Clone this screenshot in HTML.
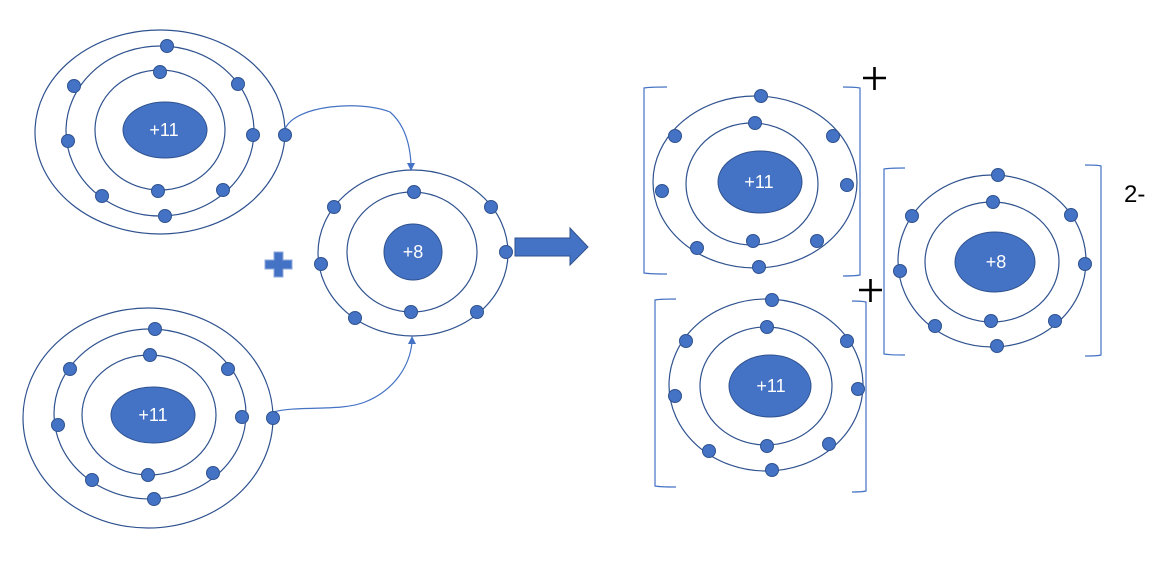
<!DOCTYPE html>
<html><head><meta charset="utf-8"><style>html,body{margin:0;padding:0;background:#fff}svg{display:block}</style></head><body>
<svg width="1164" height="570" viewBox="0 0 1164 570" xmlns="http://www.w3.org/2000/svg" font-family="Liberation Sans, sans-serif">
<g fill="none" stroke="#2F528F" stroke-width="1.2">
<ellipse cx="160" cy="132" rx="125" ry="102"/>
<ellipse cx="160" cy="131" rx="94" ry="85"/>
<ellipse cx="160" cy="130" rx="65" ry="60"/>
<ellipse cx="148" cy="418" rx="125" ry="110"/>
<ellipse cx="150" cy="414" rx="96" ry="85"/>
<ellipse cx="149" cy="415" rx="67" ry="60"/>
<ellipse cx="413" cy="253" rx="95" ry="83"/>
<ellipse cx="412" cy="252" rx="65" ry="60"/>
<ellipse cx="755" cy="182" rx="102" ry="86"/>
<ellipse cx="752" cy="184" rx="66" ry="61"/>
<ellipse cx="766" cy="385" rx="97" ry="86"/>
<ellipse cx="766" cy="386" rx="66" ry="59"/>
<ellipse cx="992" cy="261" rx="94" ry="86"/>
<ellipse cx="992" cy="262" rx="67" ry="60"/>
</g>
<g fill="none" stroke="#4472C4" stroke-width="1.2">
<path d="M285,129 C295,105 360,100 390,112 C405,125 410,145 411,164"/>
<path d="M273,412 C300,405 340,412 365,402 C395,390 410,365 412,342"/>
<path d="M667,87 Q650,87 644,88 L644,273 Q650,274 667,274"/>
<path d="M843,87 Q855,87 860,88 L860,275 Q855,276 843,276"/>
<path d="M676,299 Q660,299 655,300 L655,486 Q660,487 676,487"/>
<path d="M852,301 Q862,301 866,302 L866,491 Q862,492 852,492"/>
<path d="M905,168 Q890,168 884,169 L884,354 Q890,355 905,355"/>
<path d="M1085,165 Q1098,165 1101,166 L1101,355 Q1098,356 1085,356"/>
</g>
<path d="M407,163 L415,163 L411,171 Z" fill="#4472C4"/>
<path d="M412,336 L408,344 L416,344 Z" fill="#4472C4"/>
<g fill="#4472C4" stroke="#2F528F" stroke-width="1">
<ellipse cx="165" cy="130" rx="42" ry="28"/>
<ellipse cx="153" cy="415" rx="42" ry="28"/>
<ellipse cx="413" cy="252" rx="29" ry="28"/>
<ellipse cx="760" cy="182" rx="42" ry="31"/>
<ellipse cx="770" cy="386" rx="41" ry="31"/>
<ellipse cx="995" cy="262" rx="40" ry="30"/>
</g>
<g fill="#4472C4" stroke="#2F528F" stroke-width="1">
<circle cx="167" cy="46" r="6.5"/><circle cx="160" cy="72" r="6.5"/><circle cx="238" cy="84" r="6.5"/><circle cx="74" cy="86" r="6.5"/><circle cx="253" cy="135" r="6.5"/><circle cx="285" cy="135" r="6.5"/><circle cx="68" cy="141" r="6.5"/><circle cx="158" cy="191" r="6.5"/><circle cx="223" cy="190" r="6.5"/><circle cx="102" cy="196" r="6.5"/><circle cx="165" cy="216" r="6.5"/>
<circle cx="155" cy="329" r="6.5"/><circle cx="150" cy="355" r="6.5"/><circle cx="228" cy="369" r="6.5"/><circle cx="70" cy="369" r="6.5"/><circle cx="242" cy="417" r="6.5"/><circle cx="273" cy="418" r="6.5"/><circle cx="58" cy="425" r="6.5"/><circle cx="148" cy="475" r="6.5"/><circle cx="213" cy="473" r="6.5"/><circle cx="92" cy="480" r="6.5"/><circle cx="154" cy="499" r="6.5"/>
<circle cx="414" cy="192" r="6.5"/><circle cx="334" cy="207" r="6.5"/><circle cx="491" cy="207" r="6.5"/><circle cx="321" cy="264" r="6.5"/><circle cx="506" cy="252" r="6.5"/><circle cx="355" cy="318" r="6.5"/><circle cx="411" cy="312" r="6.5"/><circle cx="477" cy="312" r="6.5"/>
<circle cx="761" cy="96" r="6.5"/><circle cx="755" cy="123" r="6.5"/><circle cx="675" cy="136" r="6.5"/><circle cx="833" cy="136" r="6.5"/><circle cx="662" cy="191" r="6.5"/><circle cx="847" cy="185" r="6.5"/><circle cx="697" cy="248" r="6.5"/><circle cx="753" cy="241" r="6.5"/><circle cx="817" cy="241" r="6.5"/><circle cx="759" cy="267" r="6.5"/>
<circle cx="772" cy="300" r="6.5"/><circle cx="767" cy="327" r="6.5"/><circle cx="686" cy="341" r="6.5"/><circle cx="847" cy="341" r="6.5"/><circle cx="675" cy="396" r="6.5"/><circle cx="858" cy="389" r="6.5"/><circle cx="709" cy="451" r="6.5"/><circle cx="767" cy="446" r="6.5"/><circle cx="829" cy="444" r="6.5"/><circle cx="772" cy="470" r="6.5"/>
<circle cx="998" cy="175" r="6.5"/><circle cx="993" cy="202" r="6.5"/><circle cx="912" cy="216" r="6.5"/><circle cx="1071" cy="215" r="6.5"/><circle cx="900" cy="271" r="6.5"/><circle cx="1085" cy="264" r="6.5"/><circle cx="935" cy="326" r="6.5"/><circle cx="991" cy="321" r="6.5"/><circle cx="1055" cy="321" r="6.5"/><circle cx="997" cy="346" r="6.5"/>
</g>
<path d="M274,252 h9 v8 h9 v9 h-9 v8 h-9 v-8 h-9 v-9 h9 z" fill="#4472C4" stroke="#8FAADC" stroke-width="1"/>
<path d="M515,238 H570 V228 L588,247 L570,265 V256 H515 Z" fill="#4472C4" stroke="#2F528F" stroke-width="1"/>
<g fill="#fff" font-size="18" text-anchor="middle">
<text x="164" y="136">+11</text>
<text x="153" y="421">+11</text>
<text x="413" y="258">+8</text>
<text x="759" y="188">+11</text>
<text x="771" y="392">+11</text>
<text x="996" y="268">+8</text>
</g>
<g stroke="#000" stroke-width="2.6">
<path d="M863,78 H886 M874.5,67 V90"/>
<path d="M859,290 H882 M870.5,279 V302"/>
</g>
<text x="1124" y="202" font-size="24" fill="#000">2-</text>
</svg>
</body></html>
